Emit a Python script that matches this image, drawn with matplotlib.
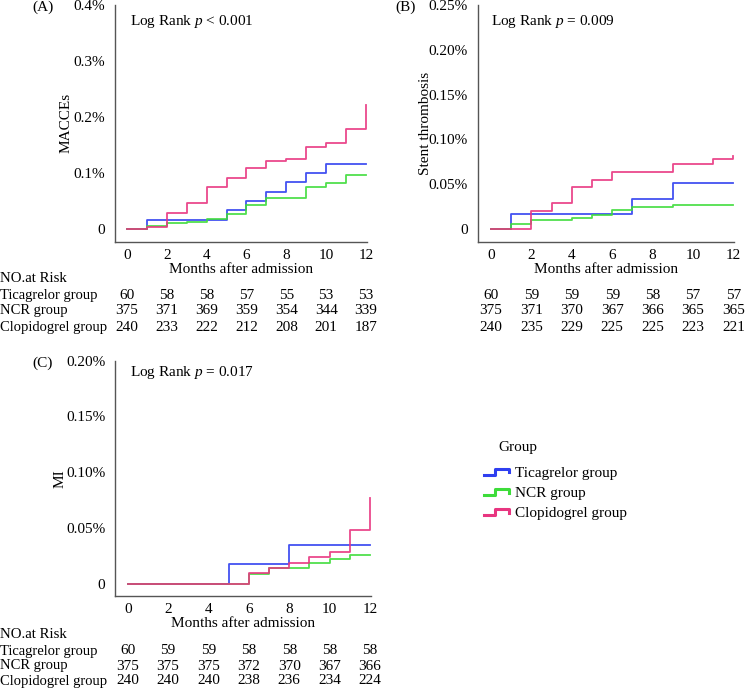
import matplotlib
matplotlib.use("Agg")
import matplotlib.pyplot as plt
from matplotlib.lines import Line2D
from matplotlib.legend_handler import HandlerBase
from matplotlib.transforms import blended_transform_factory

plt.rcParams['font.family'] = ['Liberation Serif', 'DejaVu Serif']
plt.rcParams['font.size'] = 11
plt.rcParams['mathtext.fontset'] = 'custom'
plt.rcParams['mathtext.rm'] = 'Liberation Serif'
plt.rcParams['mathtext.it'] = 'Liberation Serif:italic'

groups = ["Ticagrelor group", "NCR group", "Clopidogrel group"]
colors = ["#2f3ff0", "#3ddc3a", "#e83580"]

# cumulative event rate (%) -- event times (months) and values
# (A) MACCEs
a_tica_t = [0, 1, 5, 6, 7, 8, 9, 10, 12]
a_tica_v = [0, 0.0167, 0.0333, 0.05, 0.0667, 0.0833, 0.1, 0.1167, 0.1167]
a_ncr_t = [0, 1, 2, 3, 4, 5, 6, 7, 9, 10, 11, 12]
a_ncr_v = [0, 0.0053, 0.0107, 0.0133, 0.0187, 0.0267, 0.0427, 0.056, 0.0747, 0.0827, 0.096, 0.096]
a_clop_t = [0, 1, 2, 3, 4, 5, 6, 7, 8, 9, 10, 11, 12, 12]
a_clop_v = [0, 0.0042, 0.0292, 0.0458, 0.075, 0.0917, 0.1083, 0.1208, 0.125, 0.1458,
            0.1542, 0.1792, 0.1792, 0.2208]

# (B) Stent thrombosis
b_tica_t = [0, 1, 7, 9, 12]
b_tica_v = [0, 0.0167, 0.0333, 0.0515, 0.0515]
b_ncr_t = [0, 1, 2, 4, 5, 6, 7, 9, 12]
b_ncr_v = [0, 0.0053, 0.0103, 0.0125, 0.0155, 0.021, 0.024, 0.027, 0.027]
b_clop_t = [0, 2, 3, 4, 5, 6, 9, 11, 12, 12]
b_clop_v = [0, 0.0205, 0.0295, 0.0463, 0.055, 0.0638, 0.073, 0.0776, 0.0776, 0.081]

# (C) MI
c_tica_t = [0, 5, 8, 12]
c_tica_v = [0, 0.0174, 0.0347, 0.0347]
c_ncr_t = [0, 6, 7, 9, 10, 11, 12]
c_ncr_v = [0, 0.0084, 0.0138, 0.0186, 0.0222, 0.0254, 0.0254]
c_clop_t = [0, 6, 7, 8, 9, 10, 11, 12, 12]
c_clop_v = [0, 0.0093, 0.0141, 0.0189, 0.024, 0.0284, 0.0479, 0.0479, 0.0769]

risk_months = [0, 2, 4, 6, 8, 10, 12]
a_risk = [[60, 58, 58, 57, 55, 53, 53],
          [375, 371, 369, 359, 354, 344, 339],
          [240, 233, 222, 212, 208, 201, 187]]
b_risk = [[60, 59, 59, 59, 58, 57, 57],
          [375, 371, 370, 367, 366, 365, 365],
          [240, 235, 229, 225, 225, 223, 221]]
c_risk = [[60, 59, 59, 58, 58, 58, 58],
          [375, 375, 375, 372, 370, 367, 366],
          [240, 240, 240, 238, 236, 234, 224]]

W, H = 756, 689
fig = plt.figure(figsize=(W / 100, H / 100), dpi=100)


def px_axes(left, top, right, bottom):
    return fig.add_axes([left / W, 1 - bottom / H, (right - left) / W, (bottom - top) / H])


def style(ax, xlim, ylim, yticks, ylabels, ylab, ylab_x, p_text, p_xy, tag, tag_xy):
    for s in ["top", "right"]:
        ax.spines[s].set_visible(False)
    for s in ["left", "bottom"]:
        ax.spines[s].set_color("#555555")
        ax.spines[s].set_linewidth(1.0)
    ax.set_xlim(*xlim)
    ax.set_ylim(*ylim)
    ax.set_xticks(risk_months)
    ax.set_yticks(yticks)
    ax.set_yticklabels(ylabels)
    ax.tick_params(axis="y", length=0, pad=7)
    ax.tick_params(axis="x", length=0, pad=5)
    ax.set_xlabel("Months after admission", labelpad=1)
    ax.set_ylabel(ylab)
    ax.yaxis.set_label_coords(ylab_x, 0.5)
    ax.text(p_xy[0], p_xy[1], p_text, transform=ax.transAxes, va="center", ha="left")
    fig.text(tag_xy[0] / W, 1 - tag_xy[1] / H, tag, ha="center", va="center")


def curves(ax, data):
    for (t, v), c in zip(data, colors):
        ax.step(t, v, where="post", color=c, lw=1.3, alpha=0.9)


def risk_table(ax, rows, y_rows, with_labels):
    tr = blended_transform_factory(ax.transData, fig.transFigure)
    if with_labels:
        fig.text(0, 1 - y_rows[0] / H, "NO.at Risk", ha="left", va="center", fontsize=10.7)
    for i, row in enumerate(rows):
        y = 1 - y_rows[i + 1] / H
        if with_labels:
            fig.text(0, y, groups[i], ha="left", va="center", fontsize=10.5)
        for m, n in zip(risk_months, row):
            ax.text(m, y, str(n), transform=tr, ha="center", va="center")


# (A)
axA = px_axes(115, 5, 367, 241.7)
curves(axA, [(a_tica_t, a_tica_v), (a_ncr_t, a_ncr_v), (a_clop_t, a_clop_v)])
style(axA, (-0.6, 12.05), (-0.0227, 0.4), [0, 0.1, 0.2, 0.3, 0.4],
      ["0", "0.1%", "0.2%", "0.3%", "0.4%"], "MACCEs", -0.17,
      "Log Rank $p$ < 0.001", (0.06, 0.932), "(A)", (43, 7))
risk_table(axA, a_risk, [279, 295, 311, 327], True)

# (B)
axB = px_axes(477.7, 5, 734, 241.7)
curves(axB, [(b_tica_t, b_tica_v), (b_ncr_t, b_ncr_v), (b_clop_t, b_clop_v)])
style(axB, (-0.66, 12.03), (-0.0142, 0.25), [0, 0.05, 0.10, 0.15, 0.20, 0.25],
      ["0", "0.05%", "0.10%", "0.15%", "0.20%", "0.25%"], "Stent thrombosis", -0.18,
      "Log Rank $p$ = 0.009", (0.052, 0.932), "(B)", (406, 7))
risk_table(axB, b_risk, [279, 295, 311, 327], False)

# (C)
axC = px_axes(115, 360.7, 371, 596)
curves(axC, [(c_tica_t, c_tica_v), (c_ncr_t, c_ncr_v), (c_clop_t, c_clop_v)])
style(axC, (-0.63, 12.05), (-0.011, 0.20), [0, 0.05, 0.10, 0.15, 0.20],
      ["0", "0.05%", "0.10%", "0.15%", "0.20%"], "MI", -0.19,
      "Log Rank $p$ = 0.017", (0.059, 0.948), "(C)", (43, 363))
risk_table(axC, c_risk, [635, 651, 666, 681], True)


# legend with step-shaped handles
class StepHandler(HandlerBase):
    def create_artists(self, legend, orig_handle, xdescent, ydescent, width, height, fontsize, trans):
        x0, y0 = -xdescent, -ydescent
        xs = [x0, x0 + 0.45 * width, x0 + 0.45 * width, x0 + width, x0 + width]
        ys = [y0 + 0.15 * height, y0 + 0.15 * height, y0 + 0.75 * height, y0 + 0.75 * height, y0 + 0.4 * height]
        ln = Line2D(xs, ys, color=orig_handle.get_color(), lw=2.2)
        ln.set_transform(trans)
        return [ln]


handles = [Line2D([], [], color=c) for c in colors]
fig.text(498 / W, 1 - 448 / H, "Group", ha="left", va="center")
fig.legend(handles, groups, loc="upper left", bbox_to_anchor=(484 / W, 1 - 466 / H),
           frameon=False, handler_map={Line2D: StepHandler()}, handlelength=1.65,
           handletextpad=0.4, labelspacing=0.42, borderpad=0, borderaxespad=0)

fig.savefig("out.png", dpi=100)
